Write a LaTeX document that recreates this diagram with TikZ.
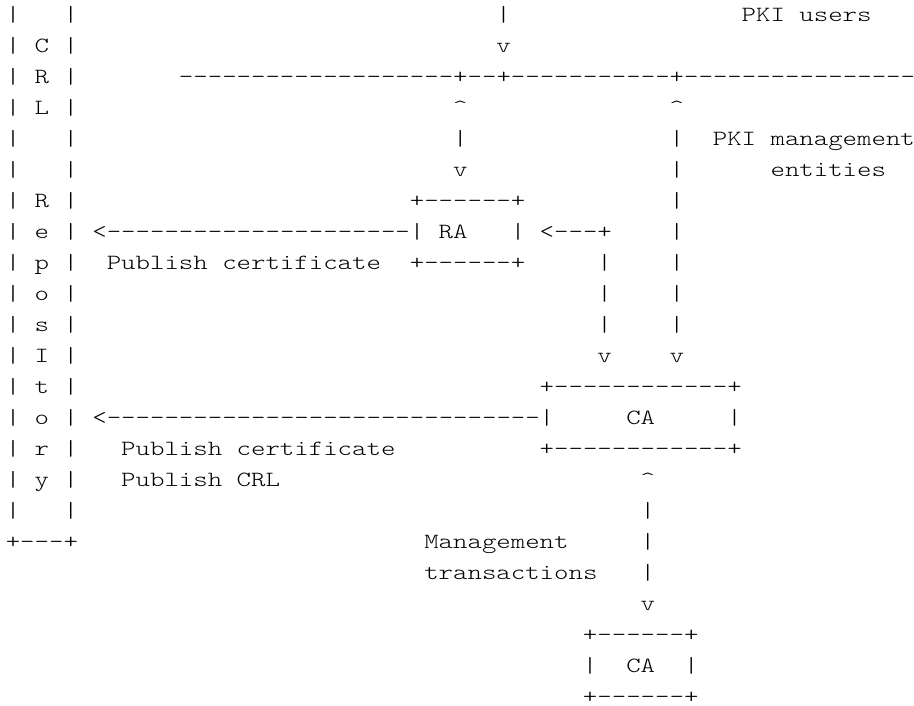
\documentclass[tikz,border=0pt]{standalone}
\usepackage{fontspec}
\usepackage{tikz}
\newfontfamily\asciifont{lmmonolt10-regular.otf}[FakeStretch=1.267]
\newcommand\asciisize{\asciifont\fontsize{21.7pt}{31pt}\selectfont\spaceskip=14.43pt\relax}
\tikzset{ascii/.style={anchor=base west,inner sep=0pt,outer sep=0pt,font=\asciisize}}

\begin{document}
\begin{tikzpicture}[x=14.43pt,y=-31pt]
\useasboundingbox (-0.402,0.3) rectangle (62.94,23.074);
% repository column
\node[ascii] (repo1) at (0,1) {|~~~|};
\node[ascii] (repo2) at (0,2) {| C |};
\node[ascii] (repo3) at (0,3) {| R |};
\node[ascii] (repo4) at (0,4) {| L |};
\node[ascii] (repo5) at (0,5) {|~~~|};
\node[ascii] (repo6) at (0,6) {|~~~|};
\node[ascii] (repo7) at (0,7) {| R |};
\node[ascii] (repo8) at (0,8) {| e |};
\node[ascii] (repo9) at (0,9) {| p |};
\node[ascii] (repo10) at (0,10) {| o |};
\node[ascii] (repo11) at (0,11) {| s |};
\node[ascii] (repo12) at (0,12) {| I |};
\node[ascii] (repo13) at (0,13) {| t |};
\node[ascii] (repo14) at (0,14) {| o |};
\node[ascii] (repo15) at (0,15) {| r |};
\node[ascii] (repo16) at (0,16) {| y |};
\node[ascii] (repo17) at (0,17) {|~~~|};
\node[ascii] (repobot) at (0,18) {+---+};
% users and the bus
\node[ascii] (usrbar) at (34,1) {|};
\node[ascii] (users) at (51,1) {PKI users};
\node[ascii] (usrdown) at (34,2) {v};
\node[ascii] (bus) at (12,3) {-------------------+--+-----------+----------------};
\node[ascii] (raup) at (31,4) {\textasciicircum};
\node[ascii] (caup) at (46,4) {\textasciicircum};
\node[ascii] (rabar) at (31,5) {|};
\node[ascii] (cabar1) at (46,5) {|};
\node[ascii] (mgmt) at (49,5) {PKI management};
\node[ascii] (radown) at (31,6) {v};
\node[ascii] (cabar2) at (46,6) {|};
\node[ascii] (ents) at (53,6) {entities};
% RA
\node[ascii] (ratop) at (28,7) {+------+};
\node[ascii] (cabar3) at (46,7) {|};
\node[ascii] (rapub) at (6,8) {<---------------------};
\node[ascii] (ra) at (28,8) {| RA~~~|};
\node[ascii] (raback) at (37,8) {<---+};
\node[ascii] (cabar4) at (46,8) {|};
\node[ascii] (rapubtxt) at (7,9) {Publish certificate};
\node[ascii] (rabot) at (28,9) {+------+};
\node[ascii] (lnk1) at (41,9) {|};
\node[ascii] (cabar5) at (46,9) {|};
\node[ascii] (lnk2) at (41,10) {|};
\node[ascii] (cabar6) at (46,10) {|};
\node[ascii] (lnk3) at (41,11) {|};
\node[ascii] (cabar7) at (46,11) {|};
\node[ascii] (lnkdown) at (41,12) {v};
\node[ascii] (cadown) at (46,12) {v};
% CA
\node[ascii] (catop) at (37,13) {+------------+};
\node[ascii] (capub) at (6,14) {<------------------------------};
\node[ascii] (ca) at (37,14) {|~~~~~CA~~~~~|};
\node[ascii] (capubtxt1) at (8,15) {Publish certificate};
\node[ascii] (cabot) at (37,15) {+------------+};
\node[ascii] (capubtxt2) at (8,16) {Publish CRL};
\node[ascii] (mgup) at (44,16) {\textasciicircum};
\node[ascii] (mgbar1) at (44,17) {|};
\node[ascii] (mgtxt1) at (29,18) {Management};
\node[ascii] (mgbar2) at (44,18) {|};
\node[ascii] (mgtxt2) at (29,19) {transactions};
\node[ascii] (mgbar3) at (44,19) {|};
\node[ascii] (mgdown) at (44,20) {v};
% second CA
\node[ascii] (subtop) at (40,21) {+------+};
\node[ascii] (subca) at (40,22) {|~~CA~~|};
\node[ascii] (subbot) at (40,23) {+------+};
\end{tikzpicture}
\end{document}
